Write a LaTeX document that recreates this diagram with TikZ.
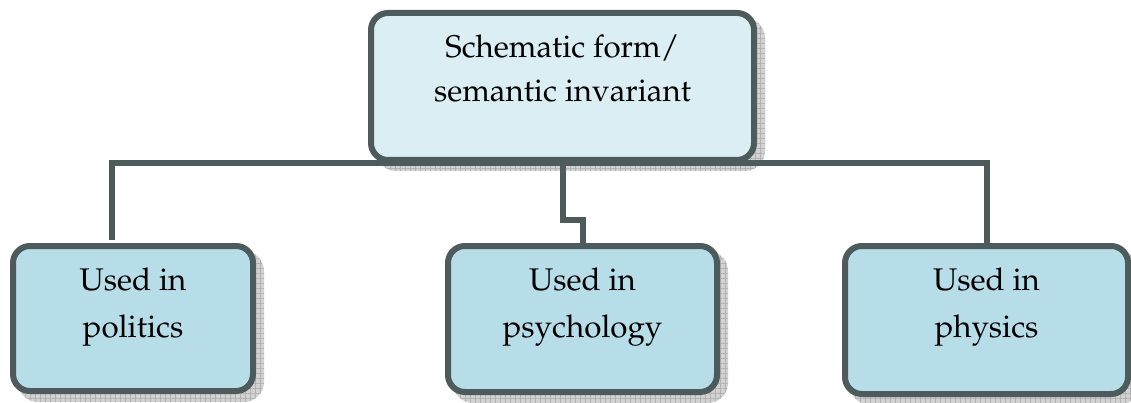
\documentclass[tikz,border=0pt]{standalone}
\usepackage[T1]{fontenc}
\usepackage{mathpazo}
\usetikzlibrary{patterns.meta}
\pgfdeclarelayer{background}
\pgfsetlayers{background,main}
\definecolor{bordercol}{HTML}{4D5B5C}
\definecolor{topfill}{HTML}{DAEEF3}
\definecolor{botfill}{HTML}{B7DEE8}
\definecolor{shadowcol}{HTML}{D2D2D2}
\tikzset{
  box/.style={draw=bordercol, line width=6pt, rounded corners=17pt, inner sep=0pt},
  topbox/.style={box, fill=topfill},
  botbox/.style={box, fill=botfill},
  shade box/.style={fill=shadowcol, rounded corners=20pt},
  shade hatch/.style={pattern={Hatch[angle=0,distance=5pt,line width=0.5pt]}, pattern color=gray!60, rounded corners=20pt},
  conn/.style={draw=bordercol, line width=6pt},
  txt/.style={anchor=base, inner sep=0pt, font=\fontsize{31.3}{47}\selectfont},
}
\begin{document}
\begin{tikzpicture}[x=1pt,y=-1pt]
\useasboundingbox (0,0) rectangle (1131,403);
% boxes
\path (562.5,86.5) node[topbox, minimum width=383pt, minimum height=147pt] (top) {};
\path (133,318.5) node[botbox, minimum width=240pt, minimum height=145pt] (b1) {};
\path (582.5,319) node[botbox, minimum width=269pt, minimum height=146pt] (b2) {};
\path (986.5,320) node[botbox, minimum width=283pt, minimum height=148pt] (b3) {};
\coordinate (cl) at (112,240);
\begin{pgfonlayer}{background}
  % shadows
  \foreach \n in {top,b1,b2,b3}{
    \fill[shade box] ([shift={(8,8)}]\n.north west) rectangle ([shift={(8,8)}]\n.south east);
    \fill[shade hatch] ([shift={(8,8)}]\n.north west) rectangle ([shift={(8,8)}]\n.south east);
  }
  % connectors
  \draw[conn] (top.south) -| (cl);
  \draw[conn] (top.south) -| (b3.north);
  \draw[conn] (top.south) -- (top.south |- 0,220) -| (b2.north);
\end{pgfonlayer}
% texts
\node[txt] (ttop) at (top.center |- 0,58) {\parbox[t]{380pt}{\centering\fontsize{31.3}{44}\selectfont Schematic form/\\semantic invariant}};
\node[txt] (t1) at (b1.center |- 0,290) {\parbox[t]{240pt}{\centering Used in\\politics}};
\node[txt] (t2) at (b2.center |- 0,290) {\parbox[t]{269pt}{\centering Used in\\psychology}};
\node[txt] (t3) at (b3.center |- 0,290) {\parbox[t]{283pt}{\centering Used in\\physics}};
\end{tikzpicture}
\end{document}
